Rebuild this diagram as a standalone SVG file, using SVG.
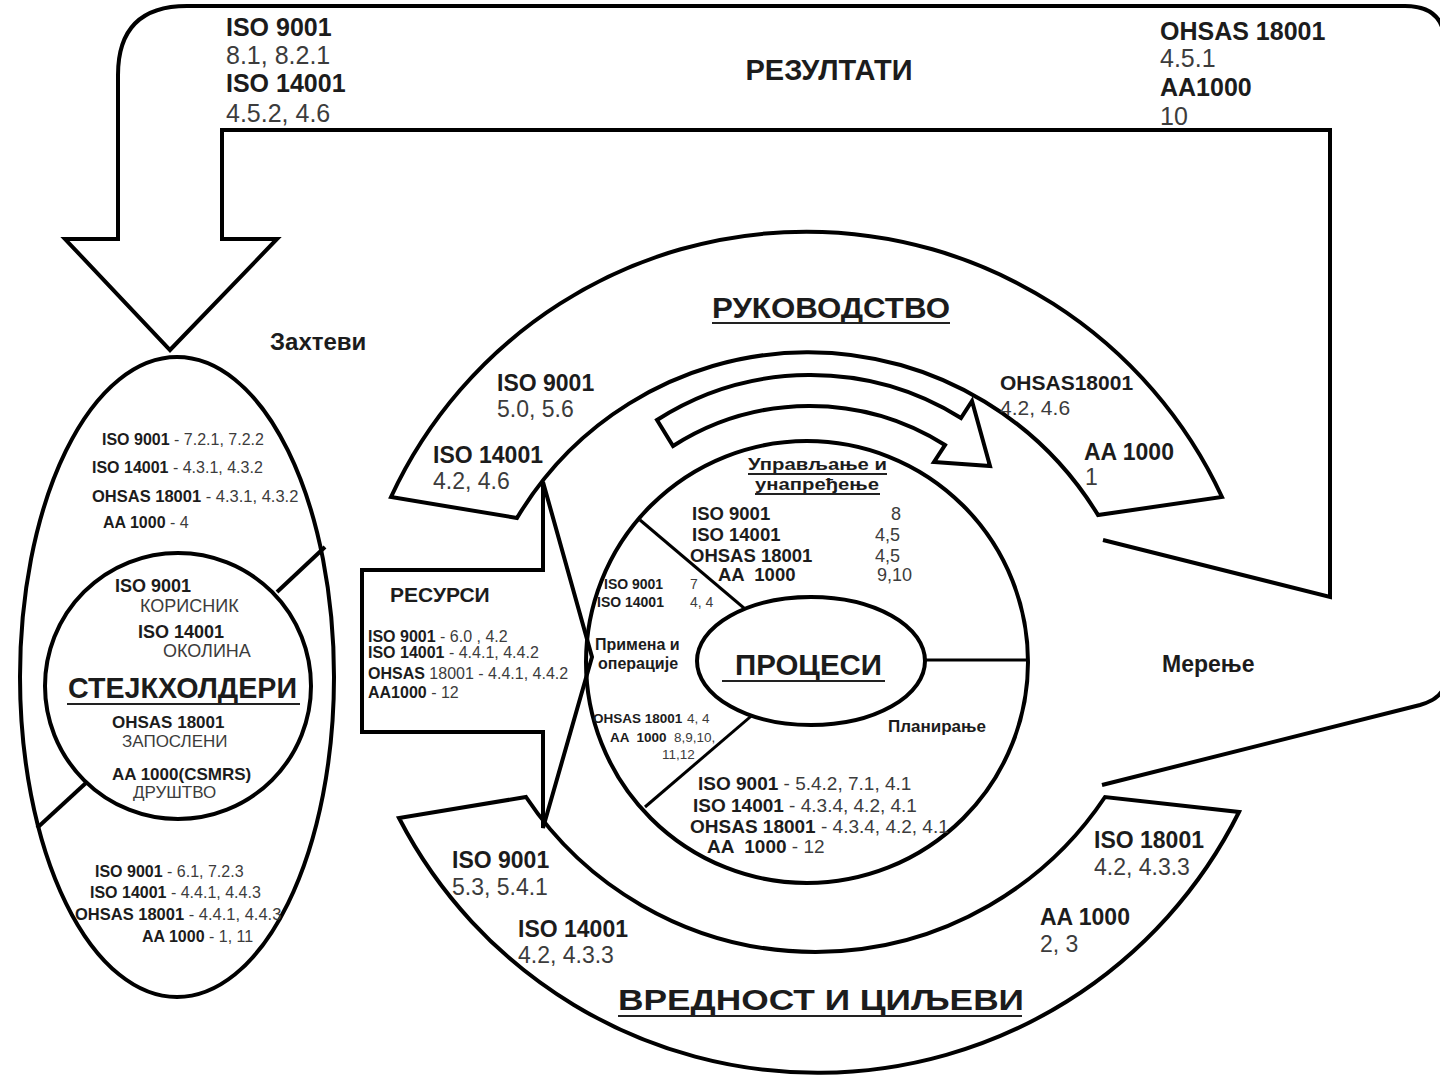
<svg xmlns="http://www.w3.org/2000/svg" width="1440" height="1075" viewBox="0 0 1440 1075">
<style>
.ln{fill:none;stroke:#000;stroke-width:4;stroke-linejoin:miter}
.sh{fill:#fff;stroke:#000;stroke-width:4}
.thin{fill:none;stroke:#000;stroke-width:3}
.ul{stroke:#222;stroke-width:2}
text{font-family:"Liberation Sans",Arial,sans-serif;fill:#1c1c1c}
.b{font-weight:bold}
.r{font-weight:normal;fill:#3c3c3c}
.pre{white-space:pre}
</style>
<rect width="1440" height="1075" fill="#fff"/>
<g id="connectors">
  <path class="ln" d="M1102,785 L1420,705 Q1445,698 1445,680 V45 Q1445,6 1405,6 H187 Q118,6 118,75 V239 H65 L170,350 L277,239 H222 V130 H1330 V597 L1103,540"/>
</g>
<g id="results-labels">
  <text x="226" y="36" font-size="25" class="b">ISO 9001</text>
  <text x="226" y="64" font-size="25" class="r">8.1, 8.2.1</text>
  <text x="226" y="92" font-size="25" class="b">ISO 14001</text>
  <text x="226" y="122" font-size="25" class="r">4.5.2, 4.6</text>
  <text x="829" y="80" font-size="29" class="b" text-anchor="middle">РЕЗУЛТАТИ</text>
  <text x="1160" y="40" font-size="25" class="b">OHSAS 18001</text>
  <text x="1160" y="67" font-size="25" class="r">4.5.1</text>
  <text x="1160" y="96" font-size="25" class="b">AA1000</text>
  <text x="1160" y="125" font-size="25" class="r">10</text>
  <text x="270" y="350" font-size="24" class="b">Захтеви</text>
  <text x="1162" y="672" font-size="23" class="b">Мерење</text>
</g>
<g id="stakeholders">
  <ellipse class="sh" cx="177" cy="677" rx="157" ry="320"/>
  <line class="ln" x1="277" y1="592" x2="325" y2="547"/>
  <line class="ln" x1="37" y1="828" x2="87" y2="782"/>
  <circle class="sh" cx="178" cy="686" r="133"/>
  <text x="102" y="445" font-size="16" class="b">ISO 9001<tspan class="r"> - 7.2.1, 7.2.2</tspan></text>
  <text x="92" y="473" font-size="16" class="b">ISO 14001<tspan class="r"> - 4.3.1, 4.3.2</tspan></text>
  <text x="92" y="502" font-size="16.5" class="b">OHSAS 18001<tspan class="r"> - 4.3.1, 4.3.2</tspan></text>
  <text x="103" y="528" font-size="16" class="b">AA 1000<tspan class="r"> - 4</tspan></text>
  <text x="115" y="592" font-size="18" class="b">ISO 9001</text>
  <text x="140" y="612" font-size="18" class="r">КОРИСНИК</text>
  <text x="138" y="638" font-size="18" class="b">ISO 14001</text>
  <text x="163" y="657" font-size="18" class="r">ОКОЛИНА</text>
  <text x="68" y="698" font-size="30" class="b" textLength="229" lengthAdjust="spacingAndGlyphs">СТЕЈКХОЛДЕРИ</text>
  <line class="ul" x1="67" y1="704" x2="300" y2="704"/>
  <text x="112" y="728" font-size="17" class="b">OHSAS 18001</text>
  <text x="122" y="747" font-size="17" class="r">ЗАПОСЛЕНИ</text>
  <text x="112" y="780" font-size="17" class="b">AA 1000(CSMRS)</text>
  <text x="133" y="798" font-size="17" class="r">ДРУШТВО</text>
  <text x="95" y="877" font-size="16" class="b">ISO 9001<tspan class="r"> - 6.1, 7.2.3</tspan></text>
  <text x="90" y="898" font-size="16" class="b">ISO 14001<tspan class="r"> - 4.4.1, 4.4.3</tspan></text>
  <text x="75" y="920" font-size="16.5" class="b">OHSAS 18001<tspan class="r"> - 4.4.1, 4.4.3</tspan></text>
  <text x="142" y="942" font-size="16" class="b">AA 1000<tspan class="r"> - 1, 11</tspan></text>
</g>
<g id="management-band">
  <path class="sh" d="M391,497 A458,458 0 0 1 1222,497 L1098,515 A339,339 0 0 0 517,518 Z"/>
  <path class="sh" d="M657,420 A285,285 0 0 1 961,418 L972,401 L990,466 L934,462 L945,445 A254,254 0 0 0 673,446 Z"/>
  <text x="712" y="318" font-size="29" class="b" textLength="238" lengthAdjust="spacingAndGlyphs">РУКОВОДСТВО</text>
  <line class="ul" x1="712" y1="323" x2="950" y2="323"/>
  <text x="497" y="391" font-size="23" class="b">ISO 9001</text>
  <text x="497" y="417" font-size="23" class="r">5.0, 5.6</text>
  <text x="433" y="463" font-size="23" class="b">ISO 14001</text>
  <text x="433" y="489" font-size="23" class="r">4.2, 4.6</text>
  <text x="1000" y="390" font-size="21" class="b">OHSAS18001</text>
  <text x="1000" y="415" font-size="21" class="r">4.2, 4.6</text>
  <text x="1084" y="460" font-size="23" class="b">AA 1000</text>
  <text x="1085" y="485" font-size="23" class="r">1</text>
</g>
<g id="values-band">
  <path class="sh" d="M399,818 A471,471 0 0 0 1239,812 L1105,797 A348,348 0 0 1 526,797 Z"/>
  <text x="452" y="868" font-size="23" class="b">ISO 9001</text>
  <text x="452" y="895" font-size="23" class="r">5.3, 5.4.1</text>
  <text x="518" y="937" font-size="23" class="b">ISO 14001</text>
  <text x="518" y="963" font-size="23" class="r">4.2, 4.3.3</text>
  <text x="1094" y="848" font-size="23" class="b">ISO 18001</text>
  <text x="1094" y="875" font-size="23" class="r">4.2, 4.3.3</text>
  <text x="1040" y="925" font-size="23" class="b">AA 1000</text>
  <text x="1040" y="952" font-size="23" class="r">2, 3</text>
  <text x="618" y="1010" font-size="29" class="b" textLength="406" lengthAdjust="spacingAndGlyphs">ВРЕДНОСТ И ЦИЉЕВИ</text>
  <line class="ul" x1="618" y1="1016" x2="1022" y2="1016"/>
</g>
<g id="processes">
  <circle class="sh" cx="807" cy="662" r="221"/>
  <line class="thin" x1="640" y1="520" x2="770" y2="630"/>
  <line class="thin" x1="645" y1="807" x2="770" y2="700"/>
  <line class="thin" x1="900" y1="660" x2="1028" y2="660"/>
  <ellipse class="sh" cx="811" cy="661" rx="114" ry="64"/>
  <text x="735" y="675" font-size="29" class="b" textLength="147" lengthAdjust="spacingAndGlyphs">ПРОЦЕСИ</text>
  <line class="ul" x1="722" y1="681" x2="885" y2="681"/>
  <text x="748" y="470" font-size="17" class="b" textLength="139" lengthAdjust="spacingAndGlyphs">Управљање и</text>
  <line class="ul" x1="748" y1="474" x2="887" y2="474"/>
  <text x="755" y="490" font-size="17" class="b" textLength="124" lengthAdjust="spacingAndGlyphs">унапређење</text>
  <line class="ul" x1="755" y1="494" x2="880" y2="494"/>
  <text x="692" y="520" font-size="18.5" class="b">ISO 9001</text>
  <text x="891" y="520" font-size="18" class="r">8</text>
  <text x="692" y="541" font-size="18.5" class="b">ISO 14001</text>
  <text x="875" y="541" font-size="18" class="r">4,5</text>
  <text x="690" y="562" font-size="18.5" class="b">OHSAS 18001</text>
  <text x="875" y="562" font-size="18" class="r">4,5</text>
  <text x="718" y="581" font-size="18.5" class="b pre">AA  1000</text>
  <text x="877" y="581" font-size="18" class="r">9,10</text>
  <text x="604" y="589" font-size="14" class="b">ISO 9001</text>
  <text x="690" y="589" font-size="14" class="r">7</text>
  <text x="597" y="607" font-size="14" class="b">ISO 14001</text>
  <text x="690" y="607" font-size="14" class="r">4, 4</text>
  <text x="595" y="650" font-size="16" class="b">Примена и</text>
  <text x="598" y="669" font-size="16" class="b">операције</text>
  <text x="593" y="723" font-size="13.5" class="b">OHSAS 18001</text>
  <text x="687" y="723" font-size="13.5" class="r">4, 4</text>
  <text x="610" y="742" font-size="13.5" class="b pre">AA  1000</text>
  <text x="674" y="742" font-size="13.5" class="r">8,9,10,</text>
  <text x="662" y="759" font-size="13.5" class="r">11,12</text>
  <text x="888" y="732" font-size="17" class="b">Планирање</text>
  <text x="698" y="790" font-size="19" class="b">ISO 9001<tspan class="r"> - 5.4.2, 7.1, 4.1</tspan></text>
  <text x="693" y="812" font-size="19" class="b">ISO 14001<tspan class="r"> - 4.3.4, 4.2, 4.1</tspan></text>
  <text x="690" y="833" font-size="19" class="b">OHSAS 18001<tspan class="r"> - 4.3.4, 4.2, 4.1</tspan></text>
  <text x="707" y="853" font-size="19" class="b pre">AA  1000<tspan class="r"> - 12</tspan></text>
</g>
<g id="resources">
  <path class="ln" d="M362,570 H543 V482 L592,657 L543,828 V732 H362 Z"/>
  <text x="390" y="602" font-size="21" class="b">РЕСУРСИ</text>
  <text x="368" y="642" font-size="16" class="b">ISO 9001<tspan class="r"> - 6.0 , 4.2</tspan></text>
  <text x="368" y="658" font-size="16" class="b">ISO 14001<tspan class="r"> - 4.4.1, 4.4.2</tspan></text>
  <text x="368" y="679" font-size="16" class="b">OHSAS<tspan class="r"> 18001 - 4.4.1, 4.4.2</tspan></text>
  <text x="368" y="698" font-size="16" class="b">AA1000<tspan class="r"> - 12</tspan></text>
</g>
</svg>
